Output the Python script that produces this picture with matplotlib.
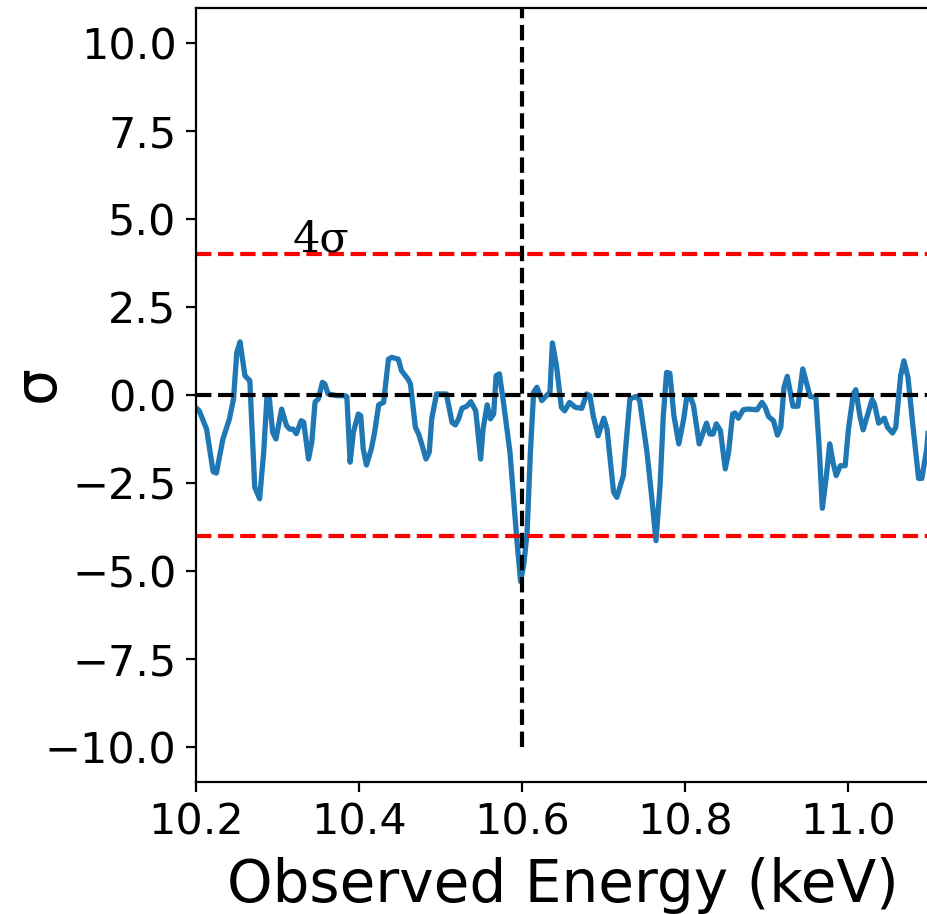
import matplotlib
matplotlib.use("Agg")
import matplotlib.pyplot as plt

# significance of residuals across the observed band
energy = [
    10.2016, 10.2040, 10.213, 10.221, 10.225, 10.233, 10.241, 10.246, 10.250, 10.254,
    10.260, 10.264, 10.266, 10.272, 10.278, 10.283, 10.287, 10.290, 10.294, 10.298,
    10.305, 10.311, 10.315, 10.319, 10.323, 10.329, 10.332, 10.338, 10.342, 10.346,
    10.350, 10.355, 10.358, 10.362, 10.373, 10.383, 10.385, 10.389, 10.393, 10.399,
    10.402, 10.405, 10.409, 10.415, 10.419, 10.424, 10.430, 10.436, 10.440, 10.448,
    10.452, 10.460, 10.463, 10.469, 10.473, 10.478, 10.482, 10.486, 10.489, 10.495,
    10.507, 10.514, 10.518, 10.522, 10.526, 10.532, 10.537, 10.543, 10.549, 10.552,
    10.557, 10.561, 10.565, 10.568, 10.572, 10.577, 10.585, 10.593, 10.598, 10.602,
    10.606, 10.610, 10.614, 10.618, 10.624, 10.628, 10.634, 10.637, 10.642, 10.648,
    10.652, 10.658, 10.665, 10.673, 10.679, 10.683, 10.687, 10.693, 10.700, 10.704,
    10.712, 10.716, 10.724, 10.732, 10.740, 10.744, 10.753, 10.759, 10.764, 10.769,
    10.773, 10.777, 10.781, 10.786, 10.792, 10.798, 10.802, 10.806, 10.810, 10.817,
    10.822, 10.826, 10.830, 10.834, 10.838, 10.843, 10.849, 10.853, 10.858, 10.861,
    10.865, 10.871, 10.877, 10.888, 10.894, 10.898, 10.902, 10.908, 10.913, 10.917,
    10.921, 10.925, 10.932, 10.938, 10.944, 10.949, 10.953, 10.960, 10.964, 10.968,
    10.973, 10.977, 10.981, 10.985, 10.990, 10.996, 11.000, 11.006, 11.009, 11.014,
    11.018, 11.022, 11.029, 11.032, 11.037, 11.044, 11.048, 11.054, 11.058, 11.064,
    11.068, 11.073, 11.079, 11.086, 11.090, 11.096, 11.100, 11.105,
]
sigma = [
    -0.40, -0.45, -0.97, -2.18, -2.22, -1.25, -0.68, -0.11, 1.21, 1.51,
    0.55, 0.45, 0.41, -2.62, -2.95, -1.63, -0.06, -0.11, -1.06, -1.25,
    -0.40, -0.87, -0.97, -0.97, -1.10, -0.73, -0.77, -1.82, -1.34, -0.20,
    -0.11, 0.36, 0.31, 0.03, -0.02, -0.02, -0.05, -1.91, -1.06, -0.54,
    -0.59, -1.53, -1.99, -1.53, -1.06, -0.28, -0.21, 1.02, 1.07, 1.02,
    0.69, 0.45, 0.31, -0.92, -1.11, -1.49, -1.82, -1.63, -0.68, 0.03,
    0.03, -0.78, -0.85, -0.68, -0.38, -0.32, -0.19, -0.45, -1.82, -0.97,
    -0.28, -0.68, -0.54, 0.55, 0.60, -0.21, -1.63, -4.00, -5.30, -4.80,
    -3.90, -1.63, 0.08, 0.22, -0.16, -0.06, 0.08, 1.48, 0.83, -0.35,
    -0.45, -0.21, -0.35, -0.38, 0.03, -0.02, -0.59, -1.16, -0.66, -0.97,
    -2.76, -2.91, -2.29, -0.11, -0.04, -0.16, -1.63, -2.95, -4.14, -2.58,
    -0.59, 0.64, 0.62, -0.59, -1.39, -0.68, -0.02, -0.04, -0.30, -1.39,
    -1.06, -0.80, -1.11, -1.11, -0.82, -1.01, -2.10, -1.63, -0.54, -0.51,
    -0.66, -0.42, -0.40, -0.42, -0.21, -0.35, -0.61, -0.73, -1.14, -0.92,
    0.22, 0.53, -0.32, -0.32, 0.74, 0.31, -0.04, -0.07, -1.44, -3.22,
    -2.29, -1.39, -1.91, -2.29, -2.01, -2.01, -0.97, 0.03, 0.15, -0.59,
    -0.99, -0.68, -0.13, -0.26, -0.80, -0.66, -0.92, -1.08, -0.92, 0.55,
    0.97, 0.50, -0.87, -2.37, -2.37, -1.53, -0.40, 0.20,
]

line_energy = 10.6
threshold = 4

fig = plt.figure(figsize=(9.27 / 2, 9.14 / 2), dpi=200)
ax = fig.add_axes([196 / 927, 132 / 914, 734 / 927, 774 / 914])

ax.plot(energy, sigma, color="tab:blue", lw=1.9)
ax.axhline(threshold, color="red", ls="--", lw=1.5)
ax.axhline(-threshold, color="red", ls="--", lw=1.5)
ax.axhline(0, color="black", ls="--", lw=1.5)
ax.vlines(line_energy, -10, 11, color="black", ls="--", lw=1.5)
ax.text(10.319, 4.08, "4σ", fontsize=15.5, family="DejaVu Serif")

ax.set_xlim(10.2, 11.1)
ax.set_ylim(-11, 11)
ax.set_xticks([10.2, 10.4, 10.6, 10.8, 11.0])
ax.set_yticks([-10, -7.5, -5, -2.5, 0, 2.5, 5, 7.5, 10])
ax.tick_params(labelsize=15.5)
ax.set_xlabel("Observed Energy (keV)", fontsize=20.9, labelpad=5)
ax.set_ylabel("σ", fontsize=20.9)
ax.yaxis.set_label_coords(-0.178, 0.515)

fig.savefig("out.png", dpi=200)
